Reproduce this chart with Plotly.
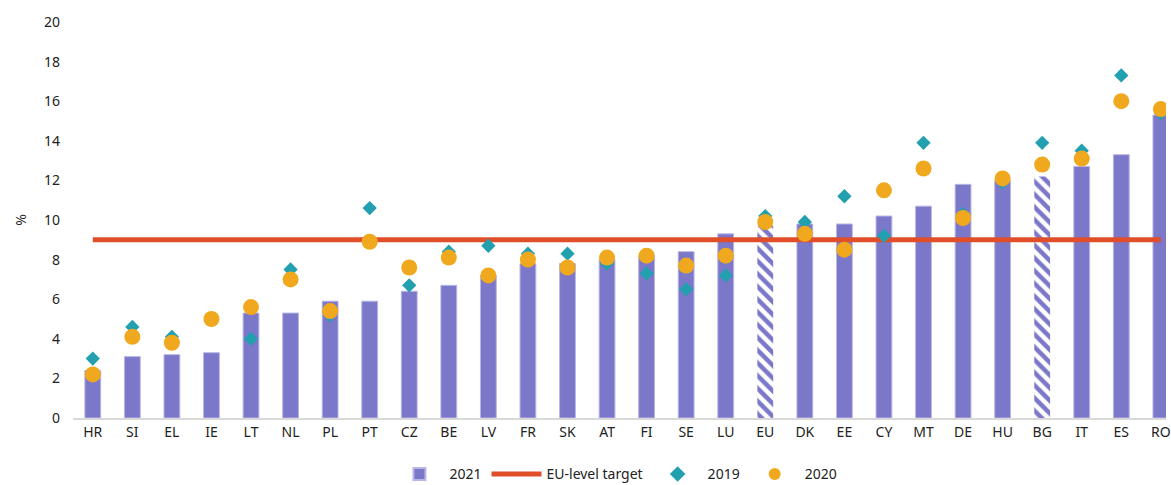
import plotly.graph_objects as go

countries = ["HR", "SI", "EL", "IE", "LT", "NL", "PL", "PT", "CZ", "BE", "LV", "FR", "SK", "AT",
             "FI", "SE", "LU", "EU", "DK", "EE", "CY", "MT", "DE", "HU", "BG", "IT", "ES", "RO"]
v2021 = [2.4, 3.1, 3.2, 3.3, 5.3, 5.3, 5.9, 5.9, 6.4, 6.7, 7.2, 7.8, 7.8, 8.0,
         8.2, 8.4, 9.3, 9.7, 9.8, 9.8, 10.2, 10.7, 11.8, 12.0, 12.2, 12.7, 13.3, 15.3]
v2019 = [3.0, 4.6, 4.1, 5.0, 4.0, 7.5, 5.2, 10.6, 6.7, 8.4, 8.7, 8.3, 8.3, 7.8,
         7.3, 6.5, 7.2, 10.2, 9.9, 11.2, 9.2, 13.9, 10.3, 11.9, 13.9, 13.5, 17.3, 15.4]
v2020 = [2.2, 4.1, 3.8, 5.0, 5.6, 7.0, 5.4, 8.9, 7.6, 8.1, 7.2, 8.0, 7.6, 8.1,
         8.2, 7.7, 8.2, 9.9, 9.3, 8.5, 11.5, 12.6, 10.1, 12.1, 12.8, 13.1, 16.0, 15.6]
target = [9.0] * len(countries)
hatched = ["EU", "BG"]

PURPLE = "#7B77C9"
is_h = [c in hatched for c in countries]

fig = go.Figure()
fig.add_trace(go.Bar(
    x=countries, y=v2021, name="2021", width=0.4,
    marker=dict(
        color=PURPLE,
        line=dict(color=["rgba(0,0,0,0)" if h else "#B9B6E6" for h in is_h], width=1),
        pattern=dict(shape=["\\" if h else "" for h in is_h],
                     bgcolor="white", size=9, solidity=0.5, fillmode="replace"),
    ),
))
fig.add_trace(go.Scatter(
    x=countries, y=target, name="EU-level target", mode="lines",
    line=dict(color="#E04E2A", width=5),
))
fig.add_trace(go.Scatter(
    x=countries, y=v2019, name="2019", mode="markers",
    marker=dict(symbol="diamond", color="#22A0B0", size=11),
))
fig.add_trace(go.Scatter(
    x=countries, y=v2020, name="2020", mode="markers",
    marker=dict(symbol="circle", color="#F0A81E", size=16),
))

font = dict(family="Noto Sans, Open Sans, sans-serif", size=13, color="#222222")
fig.update_layout(
    width=1171, height=485,
    margin=dict(l=73, r=0, t=22, b=67),
    paper_bgcolor="white", plot_bgcolor="white",
    font=font,
    showlegend=True,
    legend=dict(orientation="h", x=0.526, xanchor="center", xref="container",
                y=0.022, yanchor="middle", yref="container",
                font=dict(size=14), traceorder="normal", itemwidth=50,
                itemsizing="constant"),
    bargap=0.6,
)
fig.update_xaxes(
    range=[-0.5, 27.13], showgrid=False, showline=True, linecolor="#D9D9D9", linewidth=2,
    ticks="", tickfont=dict(size=14), fixedrange=True,
)
fig.update_yaxes(
    range=[0, 20], dtick=2, showgrid=False, zeroline=False, showline=False,
    ticks="", tickfont=dict(size=14), ticklabelstandoff=12,
    title=dict(text="%", font=dict(size=14), standoff=14),
)

fig.write_html("out.html")
